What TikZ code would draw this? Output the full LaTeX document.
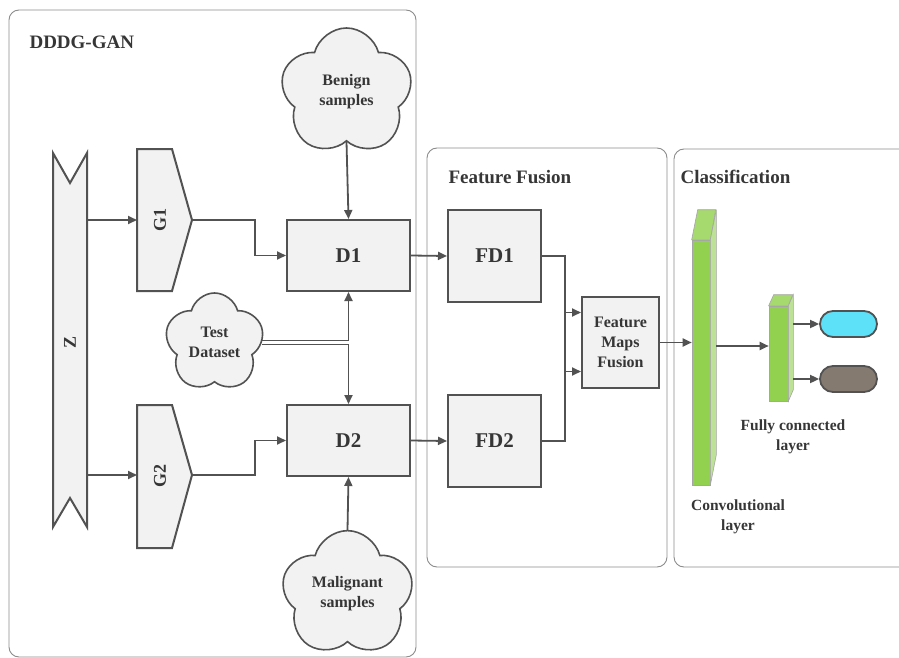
\documentclass[tikz,border=0pt]{standalone}
\usepackage{fontspec}
\setmainfont{Liberation Serif}[BoldFont={Liberation Serif Bold}]
\newfontfamily\tnr{Liberation Serif}[BoldFont={Liberation Serif Bold}]
\usetikzlibrary{shapes.symbols,shapes.geometric,shapes.misc,arrows.meta}
\definecolor{edge}{HTML}{525252}
\definecolor{txt}{HTML}{363636}
\definecolor{boxfill}{HTML}{F2F2F2}
\definecolor{panelc}{HTML}{8C8C8C}
\definecolor{convfront}{HTML}{92D050}
\definecolor{convside}{HTML}{BDE297}
\definecolor{convtop}{HTML}{A6D96E}
\definecolor{cyanout}{HTML}{5CE1F8}
\definecolor{brownout}{HTML}{857A70}
\tikzset{
  panelbox/.style={draw=panelc, line width=0.9pt, rounded corners=10pt},
  paneltitle/.style={anchor=west, text=txt, font=\tnr\bfseries\fontsize{19}{22}\selectfont},
  procbox/.style={draw=edge, fill=boxfill, line width=2pt, inner sep=0pt, text=txt,
    font=\tnr\bfseries\fontsize{21}{24}\selectfont},
  gshape/.style={draw=edge, fill=boxfill, line width=2pt},
  glabel/.style={rotate=90, text=txt, font=\tnr\bfseries\fontsize{18}{20}\selectfont},
  cloudy/.style={cloud, cloud puffs=5, cloud puff arc=150, aspect=1, draw=edge, fill=boxfill,
    line width=1.6pt, inner sep=0pt, align=center, text=txt,
    font=\tnr\bfseries\fontsize{16}{20}\selectfont},
  arr/.style={draw=edge, line width=1.8pt, -{Triangle[length=9pt,width=8pt]}},
  layer/.style={draw=gray!70, line width=0.6pt, fill=convfront, inner sep=0pt},
  lbl/.style={align=center, text=txt, font=\tnr\bfseries\fontsize{15.5}{20}\selectfont},
  outov/.style={rounded rectangle, draw=edge, line width=1.8pt, minimum width=57pt, minimum height=26pt, inner sep=0pt}
}
\begin{document}
\begin{tikzpicture}[x=1pt,y=-1pt]
\useasboundingbox (0,0) rectangle (899,658);
\clip (0,0) rectangle (899,658);
\fill[white] (0,0) rectangle (899,658);

% panels
\draw[panelbox] (9,10) rectangle (416,657);
\draw[panelbox] (427,148) rectangle (667,567);
\draw[panelbox] (674,149) rectangle (915,567);
\node[paneltitle] (t1) at (26,42) {DDDG-GAN};
\node[paneltitle] (t2) at (445,177) {Feature Fusion};
\node[paneltitle] (t3) at (677,177) {Classification};

% Z banner
\draw[gshape] (53,153) -- (70,183) -- (87,153) -- (87,527) -- (70,498) -- (53,527) -- cycle;
\node[glabel] (Z) at (70,342) {Z};
\coordinate (Z1) at (87,220);
\coordinate (Z2) at (87,475);

% generators
\draw[gshape] (137,149) -- (172,149) -- (192,220) -- (172,291) -- (137,291) -- cycle;
\node[glabel] (G1) at (160,220) {G1};
\coordinate (G1in) at (137,220);
\coordinate (G1out) at (192,220);
\draw[gshape] (137,405) -- (172,405) -- (192,475) -- (172,548) -- (137,548) -- cycle;
\node[glabel] (G2) at (160,476) {G2};
\coordinate (G2in) at (137,475);
\coordinate (G2out) at (192,475);

% discriminators
\node[procbox, minimum width=123pt, minimum height=71pt] (D1) at (348.5,255.5) {D1};
\node[procbox, minimum width=123pt, minimum height=71pt] (D2) at (348.5,440.5) {D2};

% clouds
\node[cloudy, minimum width=132pt, minimum height=128pt] (benign) at (346.5,92) {Benign\\samples};
\node[cloudy, minimum width=132pt, minimum height=126pt] (malig) at (347.5,594) {Malignant\\samples};
\node[cloudy, minimum width=99pt, minimum height=99pt] (test) at (214.5,342.5) {Test\\Dataset};

% feature fusion
\node[procbox, minimum width=93pt, minimum height=92pt] (FD1) at (494.5,256) {FD1};
\node[procbox, minimum width=93pt, minimum height=92pt] (FD2) at (494.5,441) {FD2};
\node[procbox, minimum width=77pt, minimum height=91pt, align=center,
  font=\tnr\bfseries\fontsize{16}{20}\selectfont] (FMF) at (620.5,342.5) {Feature\\Maps\\Fusion};

% classification layers
\node[layer, minimum width=18pt, minimum height=245pt] (conv) at (701,362.5) {};
\fill[convtop, draw=gray!70, line width=0.6pt] (conv.north west) -- ++(6,-30) -- ++(18,0) -- (conv.north east) -- cycle;
\fill[convside, draw=gray!70, line width=0.6pt] (conv.north east) -- ++(6,-30) -- ++(0,245) -- (conv.south east) -- cycle;
\node[layer, minimum width=19pt, minimum height=95pt] (fc) at (778.5,353.5) {};
\fill[convtop, draw=gray!70, line width=0.6pt] (fc.north west) -- ++(5,-11) -- ++(19,0) -- (fc.north east) -- cycle;
\fill[convside, draw=gray!70, line width=0.6pt] (fc.north east) -- ++(5,-11) -- ++(0,95) -- (fc.south east) -- cycle;
\coordinate (convout) at (716,346);
\coordinate (fcout1) at (793,324);
\coordinate (fcout2) at (793,379);
\node[outov, fill=cyanout] (o1) at (848.5,324) {};
\node[outov, fill=brownout] (o2) at (848.5,379) {};
\node[lbl] (fclbl) at (793,437) {Fully connected\\layer};
\node[lbl] (convlbl) at (738,517) {Convolutional\\layer};

% connectors
\draw[arr] (Z1) -- (G1in);
\draw[arr] (Z2) -- (G2in);
\draw[arr] (G1out) -- (255,220) |- (D1.west);
\draw[arr] (G2out) -- (255,475) |- (D2.west);
\draw[arr] (benign.south) -- (D1.north);
\draw[arr] (malig.north) -- (D2.south);
\draw[arr] ([yshift=2pt]test.east) -| (D1.south);
\draw[arr] ([yshift=-2pt]test.east) -| (D2.north);
\draw[arr] (D1.east) -- (FD1.west);
\draw[arr] (D2.east) -- (FD2.west);
\draw[arr] (FD1.east) -- (565,256) |- ([yshift=-29pt]FMF.west);
\draw[arr] (FD2.east) -- (565,441) |- ([yshift=30pt]FMF.west);
\draw[arr] (FMF.east) -- (FMF.east -| conv.west);
\draw[arr] (convout) -- (convout -| fc.west);
\draw[arr] (fcout1) -- (o1.west);
\draw[arr] (fcout2) -- (o2.west);
\end{tikzpicture}
\end{document}
